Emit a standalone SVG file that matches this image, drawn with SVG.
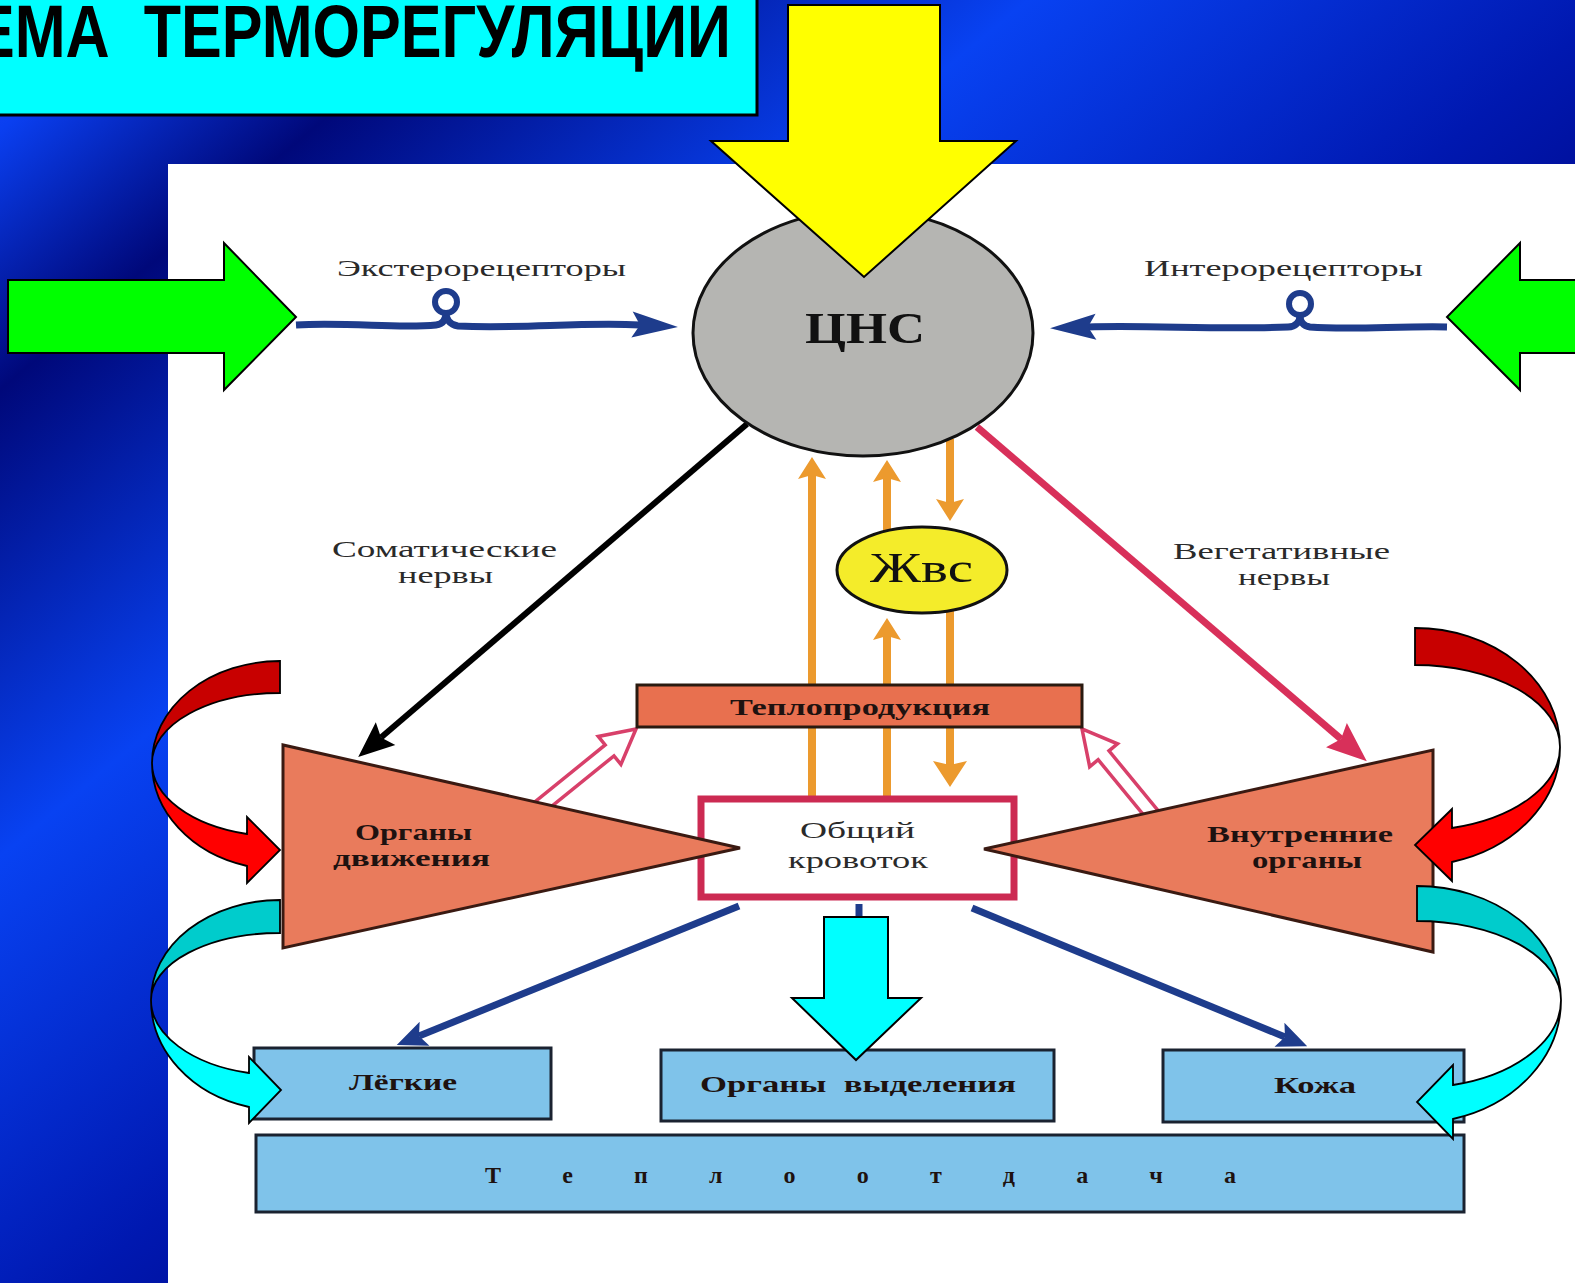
<svg xmlns="http://www.w3.org/2000/svg" width="1575" height="1283" viewBox="0 0 1575 1283">
<defs>
<linearGradient id="bg" gradientUnits="userSpaceOnUse" x1="0" y1="0" x2="1277" y2="1532">
<stop offset="0" stop-color="#1a4dff"/>
<stop offset="0.05" stop-color="#0a3ff0"/>
<stop offset="0.15" stop-color="#00087a"/>
<stop offset="0.33" stop-color="#0842f2"/>
<stop offset="0.52" stop-color="#0018b0"/>
<stop offset="0.6" stop-color="#000d95"/>
<stop offset="1" stop-color="#000d95"/>
</linearGradient>
<marker id="mNavyL" markerUnits="userSpaceOnUse" markerWidth="46" markerHeight="26" refX="8" refY="13" orient="auto" overflow="visible"><path d="M0,0 L46,13 L0,26 L8,13 Z" fill="#1e3c8c"/></marker>
<marker id="mNavyS" markerUnits="userSpaceOnUse" markerWidth="30" markerHeight="26" refX="6" refY="13" orient="auto" overflow="visible"><path d="M0,0 L30,13 L0,26 L6,13 Z" fill="#1e3c8c"/></marker>
<marker id="mBlack" markerUnits="userSpaceOnUse" markerWidth="36" markerHeight="30" refX="6" refY="15" orient="auto" overflow="visible"><path d="M0,0 L36,15 L0,30 L6,15 Z" fill="#000"/></marker>
<marker id="mCrim" markerUnits="userSpaceOnUse" markerWidth="40" markerHeight="32" refX="6" refY="16" orient="auto" overflow="visible"><path d="M0,0 L40,16 L0,32 L6,16 Z" fill="#d8305a"/></marker>
<marker id="mOr" markerUnits="userSpaceOnUse" markerWidth="22" markerHeight="28" refX="4" refY="14" orient="auto" overflow="visible"><path d="M0,0 L22,14 L0,28 L4,14 Z" fill="#ec9a2e"/></marker>
<marker id="mOrB" markerUnits="userSpaceOnUse" markerWidth="26" markerHeight="34" refX="4" refY="17" orient="auto" overflow="visible"><path d="M0,0 L26,17 L0,34 L4,17 Z" fill="#ec9a2e"/></marker>
<style>
.serif{font-family:"Liberation Serif","DejaVu Serif",serif;}
.lbl{fill:#2a2a2a;font-size:23px;}
.bold{font-weight:bold;fill:#1e1210;font-size:24px;}
.pre{white-space:pre;}
.tri{fill:#e97b5c;stroke:#3a1a12;stroke-width:3;stroke-linejoin:miter;}
.blue{fill:#7fc3ea;stroke:#1a2230;stroke-width:3;}
.navy{fill:none;stroke:#1e3c8c;stroke-width:7;}
.orl{fill:none;stroke:#ec9a2e;stroke-width:8;}
.hollow{fill:#fff;stroke:#d8406a;stroke-width:3.5;stroke-linejoin:miter;}
.blk{stroke:#000;stroke-width:2;}
</style>
</defs>

<rect x="0" y="0" width="1575" height="1283" fill="url(#bg)"/>
<rect x="168" y="164" width="1407" height="1119" fill="#ffffff"/>

<g id="title">
<rect x="-3" y="-3" width="760" height="118" fill="#00ffff" stroke="#000" stroke-width="3"/>
<text class="pre" x="-26" y="57" textLength="757" lengthAdjust="spacingAndGlyphs" font-family="Liberation Sans, Arial, sans-serif" font-weight="bold" font-size="74" fill="#000">ЕМА  ТЕРМОРЕГУЛЯЦИИ</text>
</g>

<g id="connectors">
<path class="navy" stroke-width="6" d="M296,325 C350,322 400,329 436,325 C444,324 446,318 446,313"/>
<path class="navy" stroke-width="6" d="M446,313 C446,318 449,325 458,326 C520,329 580,322 640,325" marker-end="url(#mNavyL)"/>
<circle cx="446" cy="302" r="11" fill="none" stroke="#1e3c8c" stroke-width="6"/>
<path class="navy" stroke-width="6" d="M1447,327 C1400,326 1350,330 1310,327 C1303,326 1300,321 1300,316"/>
<path class="navy" stroke-width="6" d="M1300,316 C1300,321 1296,327 1288,327 C1220,330 1150,325 1088,327" marker-end="url(#mNavyL)"/>
<circle cx="1300" cy="304" r="11" fill="none" stroke="#1e3c8c" stroke-width="6"/>
<line x1="747" y1="424" x2="381" y2="737.5" stroke="#000" stroke-width="6" marker-end="url(#mBlack)"/>
<line x1="977" y1="427" x2="1341" y2="739" stroke="#d8305a" stroke-width="7" marker-end="url(#mCrim)"/>
<line class="orl" x1="812" y1="797" x2="812" y2="475" marker-end="url(#mOr)"/>
<line class="orl" x1="887" y1="797" x2="887" y2="636" marker-end="url(#mOr)"/>
<line class="orl" x1="887" y1="560" x2="887" y2="478" marker-end="url(#mOr)"/>
<line class="orl" x1="950" y1="439" x2="950" y2="503" marker-end="url(#mOr)"/>
<line class="orl" x1="950" y1="580" x2="950" y2="765" marker-end="url(#mOrB)"/>
<polygon class="hollow" transform="translate(636,729) rotate(-39)" points="0,0 -34,-18 -34,-7 -150,-7 -150,7 -34,7 -34,18"/>
<polygon class="hollow" transform="translate(1082,729) rotate(-129.4)" points="0,0 -34,-18 -34,-7 -150,-7 -150,7 -34,7 -34,18"/>
<line class="navy" x1="739" y1="906" x2="419" y2="1036" marker-end="url(#mNavyS)"/>
<line class="navy" x1="972" y1="908" x2="1285" y2="1037" marker-end="url(#mNavyS)"/>
<line class="navy" x1="859" y1="904" x2="859" y2="920"/>
</g>

<g id="heatprod">
<rect x="637" y="685" width="445" height="42" fill="#e8704f" stroke="#2a1a10" stroke-width="3"/>
<text class="serif bold" x="730" y="715" font-size="26" textLength="260" lengthAdjust="spacingAndGlyphs">Теплопродукция</text>
</g>

<g id="bloodflow">
<rect x="701" y="799" width="313" height="98" fill="#fff" stroke="#cc2a52" stroke-width="7"/>
<text class="serif lbl" x="800" y="838" textLength="115" lengthAdjust="spacingAndGlyphs">Общий</text>
<text class="serif lbl" x="788" y="868" textLength="140" lengthAdjust="spacingAndGlyphs">кровоток</text>
</g>

<g id="motor">
<polygon class="tri" points="283,745 283,948 740,848"/>
<text class="serif bold" x="355" y="840" textLength="117" lengthAdjust="spacingAndGlyphs">Органы</text>
<text class="serif bold" x="333" y="866" textLength="157" lengthAdjust="spacingAndGlyphs">движения</text>
</g>

<g id="internal">
<polygon class="tri" points="1433,750 1433,952 984,849"/>
<text class="serif bold" x="1207" y="842" textLength="186" lengthAdjust="spacingAndGlyphs">Внутренние</text>
<text class="serif bold" x="1252" y="868" textLength="110" lengthAdjust="spacingAndGlyphs">органы</text>
</g>

<g id="cns">
<ellipse cx="863" cy="333" rx="170" ry="123" fill="#b5b5b2" stroke="#111" stroke-width="3"/>
<text class="serif" x="805" y="343" font-size="44" font-weight="bold" fill="#111" textLength="120" lengthAdjust="spacingAndGlyphs">ЦНС</text>
</g>

<g id="zhvs">
<ellipse cx="922" cy="570" rx="85" ry="43" fill="#f4ec2a" stroke="#111" stroke-width="3"/>
<text class="serif" x="870" y="582" font-size="42" fill="#111" textLength="103" lengthAdjust="spacingAndGlyphs">Жвс</text>
</g>

<g id="labels">
<text class="serif lbl" x="337" y="276" font-size="24" textLength="289" lengthAdjust="spacingAndGlyphs">Экстерорецепторы</text>
<text class="serif lbl" x="1144" y="276" font-size="24" textLength="279" lengthAdjust="spacingAndGlyphs">Интерорецепторы</text>
<text class="serif lbl" x="332" y="557" font-size="22" textLength="225" lengthAdjust="spacingAndGlyphs">Соматические</text>
<text class="serif lbl" x="398" y="583" font-size="22" textLength="95" lengthAdjust="spacingAndGlyphs">нервы</text>
<text class="serif lbl" x="1173" y="559" font-size="22" textLength="217" lengthAdjust="spacingAndGlyphs">Вегетативные</text>
<text class="serif lbl" x="1238" y="585" font-size="22" textLength="92" lengthAdjust="spacingAndGlyphs">нервы</text>
</g>

<g id="lungs">
<rect class="blue" x="254" y="1048" width="297" height="71"/>
<text class="serif bold" x="349" y="1090" textLength="108" lengthAdjust="spacingAndGlyphs">Лёгкие</text>
</g>
<g id="excretory">
<rect class="blue" x="661" y="1050" width="393" height="71"/>
<text class="serif bold pre" x="700" y="1092" font-size="25" textLength="316" lengthAdjust="spacingAndGlyphs">Органы  выделения</text>
</g>
<g id="skin">
<rect class="blue" x="1163" y="1050" width="301" height="72"/>
<text class="serif bold" x="1274" y="1093" textLength="82" lengthAdjust="spacingAndGlyphs">Кожа</text>
</g>
<g id="heatloss">
<rect class="blue" x="256" y="1135" width="1208" height="77"/>
<text class="serif bold" x="485" y="1183" textLength="751" lengthAdjust="spacing">Т е п л о о т д а ч а</text>
</g>

<g id="arrow-green-left">
<polygon class="blk" fill="#00ff00" points="8,280 224,280 224,243 296,317 224,390 224,353 8,353"/>
</g>
<g id="arrow-green-right">
<polygon class="blk" fill="#00ff00" points="1580,280 1520,280 1520,243 1447,317 1520,390 1520,353 1580,353"/>
</g>
<g id="arrow-yellow">
<polygon class="blk" fill="#ffff00" points="788,5 940,5 940,141 1016,141 864,277 711,141 788,141"/>
</g>
<g id="arrow-cyan-mid">
<polygon class="blk" fill="#00ffff" points="824,917 888,917 888,998 921,998 856,1060 792,998 824,998"/>
</g>

<g id="curved-red-left" stroke="#000" stroke-width="1.8" stroke-linejoin="miter">
<path fill="#c80000" d="M280,661 A128,102 0 0 0 152,763 A128,70 0 0 1 280,693 Z"/>
<path fill="#ff0000" d="M152,763 A128,106.6 0 0 0 247,866 L247,883 L280,850 L247,817 L247,834 A128,73.5 0 0 1 152,763 Z"/>
</g>
<g id="curved-cyan-left" stroke="#000" stroke-width="1.8" stroke-linejoin="miter">
<path fill="#00cccc" d="M280,900 A129,100 0 0 0 151,1000 A129,67 0 0 1 280,933 Z"/>
<path fill="#00ffff" d="M151,1000 A129,110.2 0 0 0 249,1107 L249,1123 L281,1090 L249,1057 L249,1073 A129,75.2 0 0 1 151,1000 Z"/>
</g>
<g id="curved-red-right" stroke="#000" stroke-width="1.8" stroke-linejoin="miter">
<path fill="#c80000" d="M1415,628 A145,119 0 0 1 1560,747 A145,82 0 0 0 1415,665 Z"/>
<path fill="#ff0000" d="M1560,747 A145,118.9 0 0 1 1452,862 L1452,881 L1415,845 L1452,809 L1452,828 A145,83.8 0 0 0 1560,747 Z"/>
</g>
<g id="curved-cyan-right" stroke="#000" stroke-width="1.8" stroke-linejoin="miter">
<path fill="#00cccc" d="M1417,886 A144,114 0 0 1 1561,1000 A144,79 0 0 0 1417,921 Z"/>
<path fill="#00ffff" d="M1561,1000 A144,122.9 0 0 1 1453,1119 L1453,1139 L1417,1102 L1453,1065 L1453,1085 A144,87.8 0 0 0 1561,1000 Z"/>
</g>
</svg>
